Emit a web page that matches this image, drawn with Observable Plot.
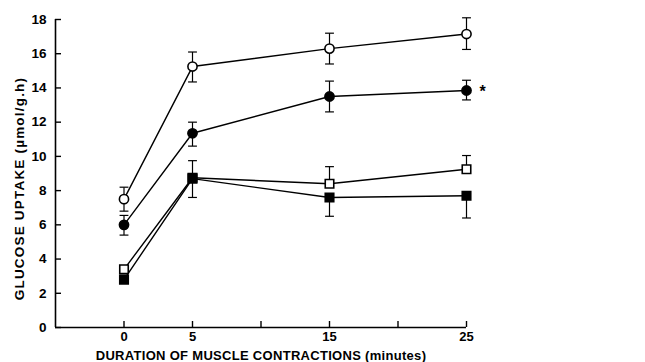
<!DOCTYPE html>
<html>
<head>
<meta charset="utf-8">
<script src="https://cdn.jsdelivr.net/npm/d3@7"></script>
<script src="https://cdn.jsdelivr.net/npm/@observablehq/plot@0.6"></script>
<style>
  html, body { margin: 0; padding: 0; background: #fff; }
  #chart svg { display: block; }
</style>
</head>
<body>
<div id="chart"></div>
<script>
// ---- data ----
const minutes = [0, 5, 15, 25];
const xTicks = [0, 5, 10, 15, 20, 25];
const xTickLabels = ["0", "5", "", "15", "", "25"];
const yTicks = [0, 2, 4, 6, 8, 10, 12, 14, 16, 18];

const openCircleMean = [7.5, 15.25, 16.3, 17.15];
const openCircleUp   = [0.7, 0.85, 0.9, 0.95];
const openCircleDown = [0.7, 0.9, 0.9, 0.9];

const filledCircleMean = [6.0, 11.35, 13.5, 13.85];
const filledCircleUp   = [0.55, 0.65, 0.9, 0.6];
const filledCircleDown = [0.6, 0.75, 0.9, 0.55];

const openSquareMean = [3.4, 8.75, 8.4, 9.25];
const openSquareUp   = [0, 1.0, 1.0, 0.8];
const openSquareDown = [0, 0, 0, 0];

const filledSquareMean = [2.8, 8.7, 7.6, 7.7];
const filledSquareUp   = [0, 0, 0, 0];
const filledSquareDown = [0, 1.1, 1.1, 1.3];

const xLabel = "DURATION OF MUSCLE CONTRACTIONS (minutes)";
const yLabel = "GLUCOSE UPTAKE (µmol/g.h)";
const markLabel = "*";

// ---- build table ----
const seriesDefs = [
  {key: "openCircle", mean: openCircleMean, up: openCircleUp, down: openCircleDown, symbol: "circle", fill: "white"},
  {key: "filledCircle", mean: filledCircleMean, up: filledCircleUp, down: filledCircleDown, symbol: "circle", fill: "black"},
  {key: "openSquare", mean: openSquareMean, up: openSquareUp, down: openSquareDown, symbol: "square", fill: "white"},
  {key: "filledSquare", mean: filledSquareMean, up: filledSquareUp, down: filledSquareDown, symbol: "square", fill: "black"}
];
const rows = [];
for (const s of seriesDefs) {
  minutes.forEach((m, i) => rows.push({
    series: s.key, x: m, y: s.mean[i],
    hi: s.mean[i] + s.up[i], lo: s.mean[i] - s.down[i],
    hasUp: s.up[i] > 0, hasDown: s.down[i] > 0,
    symbol: s.symbol, fill: s.fill
  }));
}
const upBars = rows.filter(d => d.hasUp);
const downBars = rows.filter(d => d.hasDown);

const capSymbol = {
  draw(ctx, size) {
    const w = Math.sqrt(size);
    ctx.moveTo(-w / 2, 0);
    ctx.lineTo(w / 2, 0);
  }
};

const font = "'Liberation Sans', Arial, sans-serif";

const chart = Plot.plot({
  width: 645,
  height: 362,
  marginLeft: 55,
  marginRight: 179,
  marginTop: 19,
  marginBottom: 35,
  style: {fontFamily: font, fontSize: "13px", fontWeight: "bold", color: "black", background: "white"},
  x: {domain: [-5, 25]},
  y: {domain: [0, 18]},
  marks: [
    // axis lines
    Plot.ruleX([-5], {y1: 0, y2: 18, stroke: "black", strokeWidth: 1.6}),
    Plot.ruleY([0], {x1: -5, x2: 25, stroke: "black", strokeWidth: 1.6}),
    // tick marks (inward)
    Plot.axisX({ticks: xTicks, tickSize: 6, dy: -6, tickFormat: () => "", strokeWidth: 1.4, label: null}),
    Plot.axisY({ticks: yTicks, tickSize: 6, dx: 6, tickFormat: () => "", strokeWidth: 1.4, label: null}),
    // tick labels
    Plot.axisX({ticks: xTicks, tickSize: 0, tickPadding: 4, tickFormat: (d) => xTickLabels[xTicks.indexOf(d)], label: null, fontSize: 13}),
    Plot.axisY({ticks: yTicks, tickSize: 0, tickPadding: 9, label: null, fontSize: 13.5}),
    // axis titles
    Plot.text([xLabel], {frameAnchor: "bottom", lineAnchor: "bottom", textAnchor: "middle", dy: 32, text: d => d, fontSize: 13, fontWeight: "bold"}),
    Plot.text([yLabel], {frameAnchor: "left", textAnchor: "middle", lineAnchor: "middle", dx: -36, dy: 15, rotate: -90, text: d => d, fontSize: 13.5, fontWeight: "bold"}),
    // error bars
    Plot.link(upBars, {x1: "x", x2: "x", y1: "y", y2: "hi", stroke: "black", strokeWidth: 1.2}),
    Plot.link(downBars, {x1: "x", x2: "x", y1: "y", y2: "lo", stroke: "black", strokeWidth: 1.2}),
    Plot.dot(upBars, {x: "x", y: "hi", symbol: capSymbol, r: 5, stroke: "black", strokeWidth: 1.2}),
    Plot.dot(downBars, {x: "x", y: "lo", symbol: capSymbol, r: 5, stroke: "black", strokeWidth: 1.2}),
    // lines
    Plot.line(rows, {x: "x", y: "y", z: "series", stroke: "black", strokeWidth: 1.4}),
    // markers
    Plot.dot(rows.filter(d => d.symbol === "circle"), {x: "x", y: "y", r: 4.6, symbol: "circle", fill: "fill", stroke: "black", strokeWidth: 1.6}),
    Plot.dot(rows.filter(d => d.symbol === "square"), {x: "x", y: "y", r: 4.8, symbol: "square", fill: "fill", stroke: "black", strokeWidth: 1.6}),
    // significance mark
    Plot.text([markLabel], {x: () => minutes[3], y: () => filledCircleMean[3], text: d => d, dx: 16, dy: 1, fontSize: 16, fontWeight: "bold"})
  ]
});
// widen the axis titles' letter spacing to match the reference
for (const t of chart.querySelectorAll("text")) {
  if (t.textContent === yLabel) t.style.letterSpacing = "1.2px";
  if (t.textContent === xLabel) t.style.letterSpacing = "0.3px";
}
document.getElementById("chart").appendChild(chart);
</script>
</body>
</html>
